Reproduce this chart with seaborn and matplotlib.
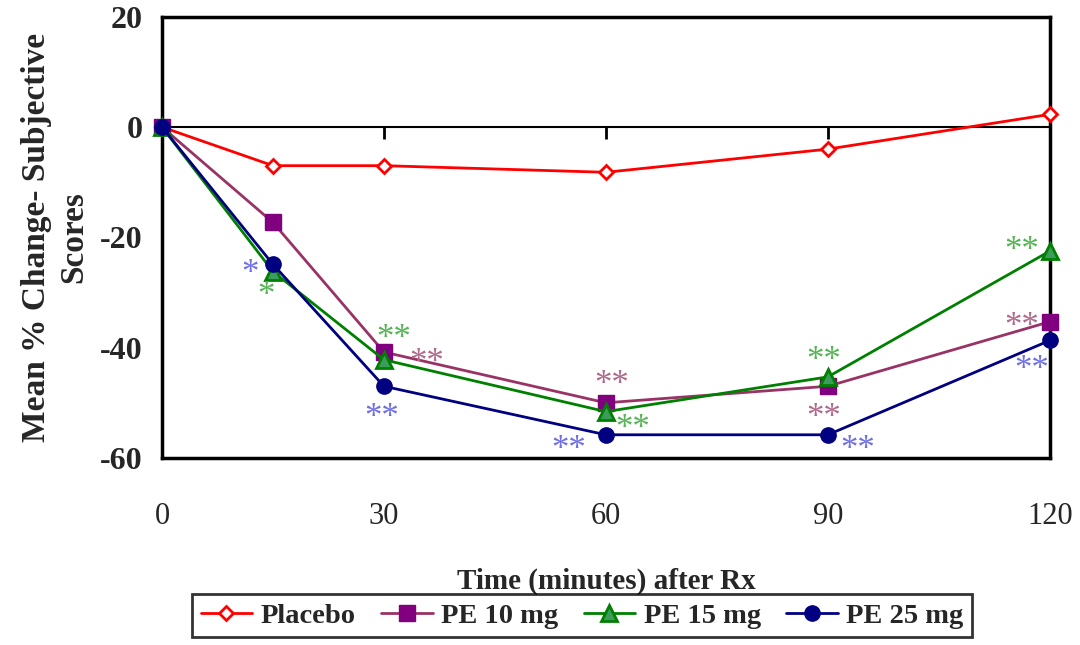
import numpy as np
import pandas as pd
import matplotlib
matplotlib.use("Agg")
import matplotlib.pyplot as plt
import seaborn as sns

sns.set_style("white")
matplotlib.rcParams['font.family'] = ['Liberation Serif', 'DejaVu Serif']
matplotlib.rcParams['axes.unicode_minus'] = False

# data
TIMES = [0, 15, 30, 60, 90, 120]
PLACEBO = [0, -7, -7, -8.2, -4, 2.3]
PE10 = [0, -17.3, -40.8, -50, -47, -35.3]
PE15 = [0, -26.2, -42.2, -51.6, -45.3, -22.5]
PE25 = [0, -24.9, -47, -55.8, -55.8, -38.7]
SERIES = ["Placebo", "PE 10 mg", "PE 15 mg", "PE 25 mg"]
XTICKS = [0, 30, 60, 90, 120]
YTICKS = [-60, -40, -20, 0, 20]

# significance stars: (x, y, text, series)
STARS = [
    (11.9, -26.8, "*", "PE 25 mg"),
    (14.0, -30.8, "*", "PE 15 mg"),
    (31.3, -38.6, "**", "PE 15 mg"),
    (35.8, -42.8, "**", "PE 10 mg"),
    (29.7, -52.9, "**", "PE 25 mg"),
    (60.8, -46.8, "**", "PE 10 mg"),
    (63.6, -54.8, "**", "PE 15 mg"),
    (55.0, -58.6, "**", "PE 25 mg"),
    (89.5, -42.6, "**", "PE 15 mg"),
    (89.5, -52.9, "**", "PE 10 mg"),
    (94.0, -58.6, "**", "PE 25 mg"),
    (116.2, -22.6, "**", "PE 15 mg"),
    (116.2, -36.4, "**", "PE 10 mg"),
    (117.6, -44.2, "**", "PE 25 mg"),
]

STYLE = {
    "Placebo": dict(color="#ff0000", marker="D", mfc="white", mec="#ff0000", ms=7.5, mew=2),
    "PE 10 mg": dict(color="#993366", marker="s", mfc="#800080", mec="#800080", ms=11, mew=1),
    "PE 15 mg": dict(color="#008000", marker="^", mfc="#3c9c5c", mec="#008000", ms=11, mew=2),
    "PE 25 mg": dict(color="#000080", marker="o", mfc="#000080", mec="#000080", ms=11, mew=1),
}
STAR_COLORS = {"PE 10 mg": "#b06a8c", "PE 15 mg": "#55b555", "PE 25 mg": "#6f6fe6"}

df = pd.DataFrame({
    "time": TIMES * 4,
    "score": PLACEBO + PE10 + PE15 + PE25,
    "group": np.repeat(SERIES, len(TIMES)),
})

fig, ax = plt.subplots(figsize=(10.8, 6.45), dpi=100)
fig.subplots_adjust(left=0.15, right=0.972, top=0.974, bottom=0.29)

handles = []
for name in SERIES:
    st = STYLE[name]
    sub = df[df["group"] == name]
    sns.lineplot(data=sub, x="time", y="score", ax=ax, color=st["color"], lw=2,
                 marker=st["marker"], markerfacecolor=st["mfc"], markeredgecolor=st["mec"],
                 markersize=st["ms"], markeredgewidth=st["mew"], label=name,
                 legend=False, clip_on=False, zorder=3)
    handles.append(ax.lines[-1])

for x, y, s, g in STARS:
    ax.text(x, y, s, color=STAR_COLORS[g], fontsize=25, ha="center", va="center")

ax.set_xlim(0, 120)
ax.set_ylim(-60, 20)
ax.set_xticks(XTICKS)
ax.set_yticks(YTICKS)

# zero line with its own tick marks
ax.axhline(0, color="black", lw=1.5, zorder=1)
ax.vlines(XTICKS[1:-1], -2.2, 0, color="black", lw=2, zorder=1)

for sp in ax.spines.values():
    sp.set_linewidth(2.5)
    sp.set_color("black")

ax.tick_params(axis="y", direction="out", length=9, width=2.5, labelsize=23, pad=5)
ax.tick_params(axis="x", length=0, labelsize=22, pad=32)
for lab in ax.get_yticklabels():
    lab.set_fontweight("bold")

ax.set_xlabel("Time (minutes) after Rx", fontsize=21, fontweight="bold", labelpad=26)
ax.set_ylabel("Mean % Change- Subjective\nScores", fontsize=24, fontweight="bold",
              labelpad=8, linespacing=1.25)

leg = fig.legend(handles=handles, labels=SERIES, loc="center", ncol=4,
                 bbox_to_anchor=(0.539, 0.045), frameon=True, fancybox=False,
                 prop={"size": 20.5, "weight": "bold"}, handlelength=1.8,
                 handletextpad=0.3, columnspacing=0.9, borderpad=0.3)
leg.get_frame().set_edgecolor("black")
leg.get_frame().set_linewidth(2)

plt.savefig("out.png", dpi=100)
